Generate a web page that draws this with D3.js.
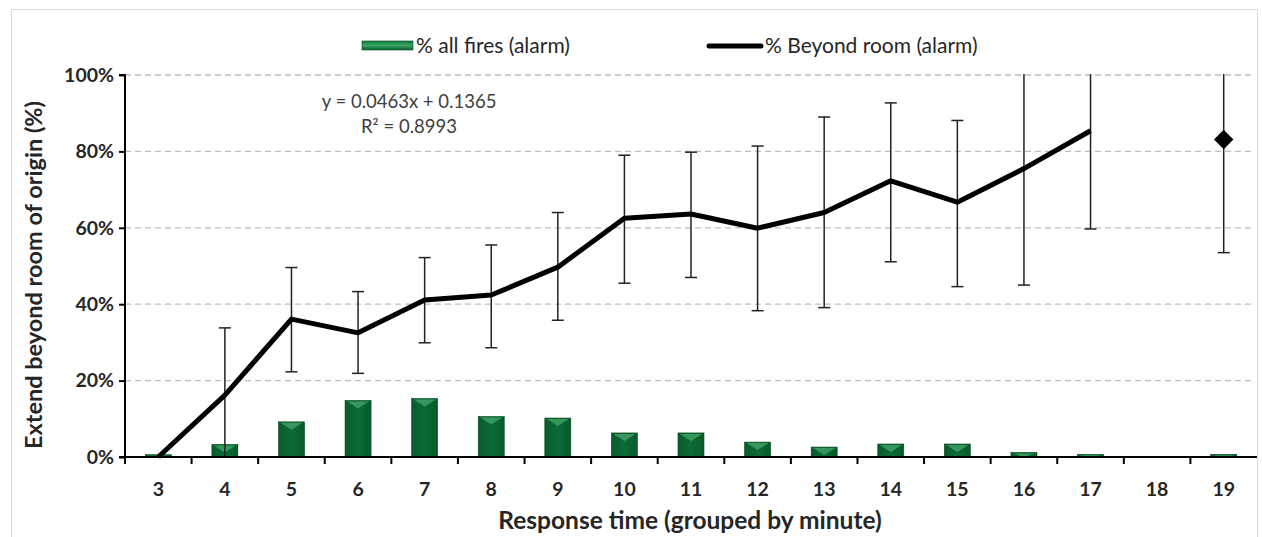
<!DOCTYPE html>
<html>
<head>
<meta charset="utf-8">
<script src="https://cdn.jsdelivr.net/npm/d3@7"></script>
<style>
  body { margin: 0; background: #fff; }
  text { font-family: Lato, "Noto Sans", sans-serif; }
</style>
</head>
<body>
<div id="chart"></div>
<script>
// response time categories (minutes)
var minutes = [3, 4, 5, 6, 7, 8, 9, 10, 11, 12, 13, 14, 15, 16, 17, 18, 19];
// % all fires (alarm) - bars
var allFires = [0.6, 3.3, 9.2, 14.8, 15.3, 10.6, 10.2, 6.3, 6.3, 3.9, 2.6, 3.4, 3.4, 1.2, 0.7, 0, 0.7];
// % beyond room (alarm) - line (18 has no value)
var beyondRoom = [0, 16.2, 36.1, 32.5, 41.1, 42.4, 49.7, 62.5, 63.6, 59.9, 64.0, 72.3, 66.7, 75.5, 85.4, null, 83.1];
// error bar bounds
var errLow = [null, 0, 22.3, 21.9, 29.9, 28.6, 35.8, 45.5, 47.0, 38.3, 39.1, 51.1, 44.6, 45.0, 59.7, null, 53.5];
var errHigh = [null, 33.8, 49.6, 43.3, 52.2, 55.5, 64.0, 79.0, 79.8, 81.4, 89.0, 92.7, 88.1, 106, 108, null, 110];
var yTicks = [0, 20, 40, 60, 80, 100];
var legendLabels = ["% all fires (alarm)", "% Beyond room (alarm)"];
var trendLines = ["y = 0.0463x + 0.1365", "R\u00B2 = 0.8993"];

var W = 1262, H = 537;
var plot = {left: 125, right: 1257, top: 75, bottom: 457};

var svg = d3.select("#chart").append("svg")
	.attr("width", W)
	.attr("height", H);

// frame of the chart
svg.append("rect")
	.attr("x", 11.5).attr("y", 9.5)
	.attr("width", 1246).attr("height", 540)
	.attr("fill", "none")
	.attr("stroke", "#d9d9d9");

var x = d3.scaleBand()
	.domain(minutes)
	.range([plot.left, plot.right]);

var y = d3.scaleLinear()
	.domain([0, 100])
	.range([plot.bottom, plot.top]);

var defs = svg.append("defs");
var grad = defs.append("linearGradient").attr("id", "barGrad");
grad.append("stop").attr("offset", "0%").attr("stop-color", "#0a5a2c");
grad.append("stop").attr("offset", "50%").attr("stop-color", "#0b6c36");
grad.append("stop").attr("offset", "100%").attr("stop-color", "#09592b");
var lgGrad = defs.append("linearGradient").attr("id", "legGrad").attr("x2", 0).attr("y2", 1);
lgGrad.append("stop").attr("offset", "0%").attr("stop-color", "#0d7a3e");
lgGrad.append("stop").attr("offset", "50%").attr("stop-color", "#3aa566");
lgGrad.append("stop").attr("offset", "100%").attr("stop-color", "#0a5d2e");

defs.append("clipPath").attr("id", "plotClip")
	.append("rect")
	.attr("x", plot.left).attr("y", plot.top - 1)
	.attr("width", plot.right - plot.left)
	.attr("height", plot.bottom - plot.top + 2);

// gridlines
svg.append("g")
	.selectAll("line")
	.data(yTicks.filter(function(d){ return d > 0; }))
	.join("line")
	.attr("x1", plot.left).attr("x2", plot.right - 4)
	.attr("y1", function(d){ return y(d); })
	.attr("y2", function(d){ return y(d); })
	.attr("stroke", "#bfbfbf")
	.attr("stroke-width", 1.3)
	.attr("stroke-dasharray", "6,4");

// bars
var barW = 26;
var bars = svg.append("g")
	.selectAll("g")
	.data(minutes.map(function(m, i){ return {m: m, v: allFires[i]}; }).filter(function(d){ return d.v > 0; }))
	.join("g");

bars.append("rect")
	.attr("x", function(d){ return x(d.m) + x.bandwidth()/2 - barW/2; })
	.attr("y", function(d){ return y(d.v); })
	.attr("width", barW)
	.attr("height", function(d){ return y(0) - y(d.v); })
	.attr("fill", "url(#barGrad)")
	.attr("stroke", "#07471f")
	.attr("stroke-width", 0.6);

// bevel highlight on top of each bar
bars.append("path")
	.attr("d", function(d){
		var cx = x(d.m) + x.bandwidth()/2, t = y(d.v), h = Math.min(7, (y(0) - t) - 1);
		return "M" + (cx - barW/2 + 2) + "," + (t + 1) +
			"L" + (cx + barW/2 - 2) + "," + (t + 1) +
			"L" + cx + "," + (t + 1 + h) + "Z";
	})
	.attr("fill", "#3f9f66")
	.attr("opacity", 0.85);

// error bars
var errData = minutes.map(function(m, i){
	return {m: m, lo: errLow[i], hi: errHigh[i]};
}).filter(function(d){ return d.lo !== null; });

var err = svg.append("g").attr("clip-path", "url(#plotClip)");
err.selectAll("line.stem")
	.data(errData)
	.join("line")
	.attr("class", "stem")
	.attr("x1", function(d){ return x(d.m) + x.bandwidth()/2; })
	.attr("x2", function(d){ return x(d.m) + x.bandwidth()/2; })
	.attr("y1", function(d){ return y(d.lo); })
	.attr("y2", function(d){ return y(d.hi); })
	.attr("stroke", "#222")
	.attr("stroke-width", 1.5);

var caps = [];
errData.forEach(function(d){
	if (d.lo > 0) caps.push({m: d.m, v: d.lo});
	if (d.hi <= 100) caps.push({m: d.m, v: d.hi});
});
err.selectAll("line.cap")
	.data(caps)
	.join("line")
	.attr("class", "cap")
	.attr("x1", function(d){ return x(d.m) + x.bandwidth()/2 - 6; })
	.attr("x2", function(d){ return x(d.m) + x.bandwidth()/2 + 6; })
	.attr("y1", function(d){ return y(d.v); })
	.attr("y2", function(d){ return y(d.v); })
	.attr("stroke", "#222")
	.attr("stroke-width", 1.5);

// beyond-room line (ends at 17, 19 shown as a lone marker)
var lineData = minutes.map(function(m, i){ return {m: m, v: beyondRoom[i]}; });
var line = d3.line()
	.defined(function(d){ return d.v !== null; })
	.x(function(d){ return x(d.m) + x.bandwidth()/2; })
	.y(function(d){ return y(d.v); });

svg.append("path")
	.datum(lineData.filter(function(d){ return d.m <= 17; }))
	.attr("d", line)
	.attr("fill", "none")
	.attr("stroke", "#000")
	.attr("stroke-width", 5)
	.attr("stroke-linejoin", "round");

var lone = lineData.filter(function(d, i){
	return d.v !== null && (i > 0 && lineData[i-1].v === null);
});
svg.selectAll("path.marker")
	.data(lone)
	.join("path")
	.attr("class", "marker")
	.attr("d", d3.symbol().type(d3.symbolSquare).size(190))
	.attr("transform", function(d){
		return "translate(" + (x(d.m) + x.bandwidth()/2) + "," + y(d.v) + ") rotate(45)";
	})
	.attr("fill", "#000");

// y axis
var yAxis = svg.append("g")
	.attr("transform", "translate(" + plot.left + ",0)")
	.call(d3.axisLeft(y).tickValues(yTicks).tickSize(6).tickPadding(5)
		.tickFormat(function(d){ return d + "%"; }));
yAxis.select(".domain").attr("stroke", "#000").attr("stroke-width", 2)
	.attr("d", "M-6," + y(100) + "H0V" + y(0) + "H-6");
yAxis.selectAll(".tick line").attr("stroke", "#000").attr("stroke-width", 2);
yAxis.selectAll(".tick text")
	.attr("fill", "#262626")
	.style("font-size", "19.5px")
	.style("font-weight", "bold")
	.style("font-family", "Lato, sans-serif");

// x axis: ticks sit between categories
var xAxis = svg.append("g")
	.attr("transform", "translate(0," + plot.bottom + ")")
	.call(d3.axisBottom(x).tickSize(0).tickPadding(25));
xAxis.select(".domain").attr("stroke", "#000").attr("stroke-width", 2)
	.attr("d", "M" + plot.left + ",0H" + plot.right);
xAxis.selectAll(".tick text")
	.attr("fill", "#262626")
	.style("font-size", "19.5px")
	.style("font-weight", "bold")
	.style("font-family", "Lato, sans-serif");
xAxis.selectAll("line.sep")
	.data(minutes)
	.join("line")
	.attr("class", "sep")
	.attr("x1", function(d){ return x(d); })
	.attr("x2", function(d){ return x(d); })
	.attr("y1", 0).attr("y2", 7)
	.attr("stroke", "#000")
	.attr("stroke-width", 2);

// axis titles
svg.append("text")
	.attr("x", 690)
	.attr("y", 529)
	.attr("text-anchor", "middle")
	.attr("fill", "#262626")
	.style("font-size", "24.5px")
	.style("font-weight", "bold")
	.text("Response time (grouped by minute)");

svg.append("text")
	.attr("transform", "translate(42,275) rotate(-90)")
	.attr("text-anchor", "middle")
	.attr("fill", "#262626")
	.style("font-size", "23.5px")
	.style("font-weight", "bold")
	.text("Extend beyond room of origin (%)");

// trendline equation
svg.append("g")
	.selectAll("text")
	.data(trendLines)
	.join("text")
	.attr("x", 409)
	.attr("y", function(d, i){ return 108 + i * 25; })
	.attr("text-anchor", "middle")
	.attr("fill", "#404040")
	.style("font-size", "18.5px")
	.text(function(d){ return d; });

// legend
var leg = svg.append("g");
leg.append("rect")
	.attr("x", 362).attr("y", 41)
	.attr("width", 51).attr("height", 9)
	.attr("fill", "url(#legGrad)")
	.attr("stroke", "#07471f")
	.attr("stroke-width", 0.6);
leg.append("text")
	.attr("x", 416).attr("y", 53)
	.attr("fill", "#262626")
	.style("font-size", "21px")
	.text(legendLabels[0]);
leg.append("line")
	.attr("x1", 709).attr("x2", 761)
	.attr("y1", 46).attr("y2", 46)
	.attr("stroke", "#000")
	.attr("stroke-width", 5)
	.attr("stroke-linecap", "round");
leg.append("text")
	.attr("x", 765).attr("y", 53)
	.attr("fill", "#262626")
	.style("font-size", "21px")
	.text(legendLabels[1]);
</script>
</body>
</html>
